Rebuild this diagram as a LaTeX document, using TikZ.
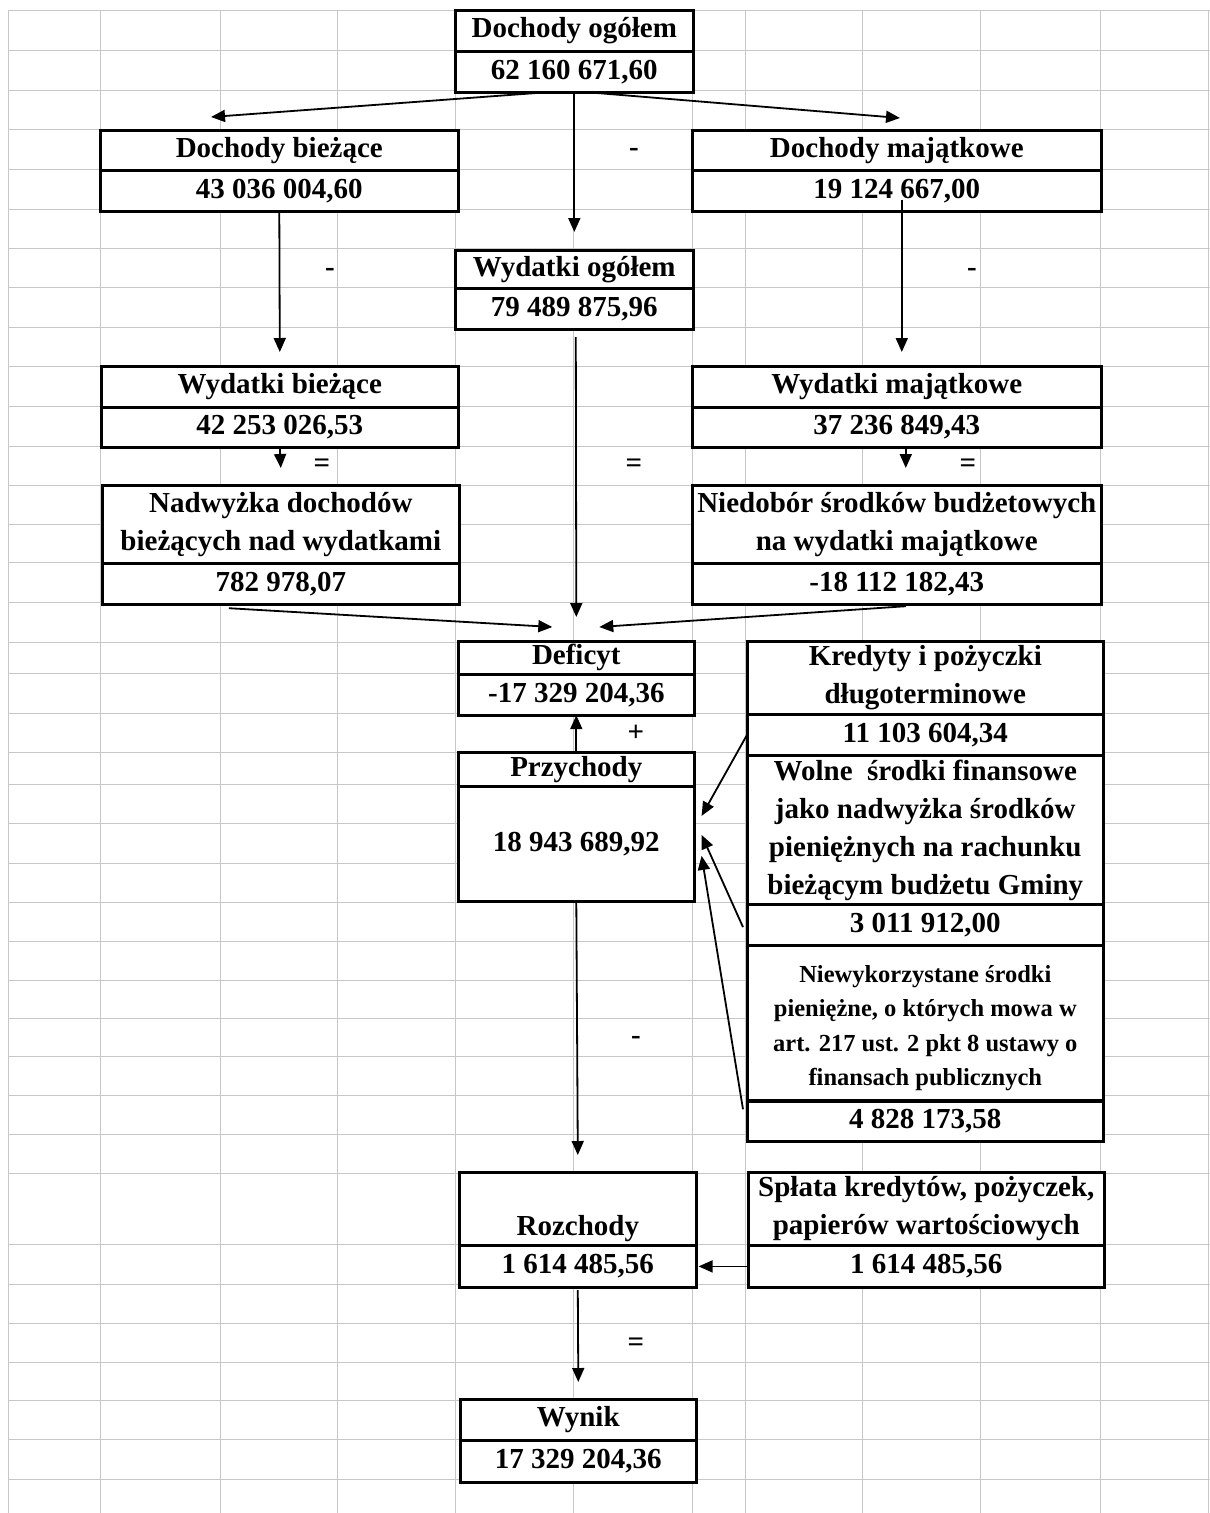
\documentclass[tikz,border=0pt]{standalone}
\usepackage{fontspec}
\setmainfont{Liberation Serif}
\usetikzlibrary{arrows.meta,calc}
\begin{document}
\begin{tikzpicture}[x=1pt,y=-1pt,
  gridline/.style={draw=black!22, line width=1pt},
  cell/.style={draw=black, line width=1.6pt, fill=white, inner sep=0pt, anchor=north west, align=center, font=\bfseries\fontsize{29}{38}\selectfont},
  smalltext/.style={font=\bfseries\fontsize{24.5}{34.5}\selectfont, align=center, inner sep=0pt},
  frame/.style={draw=black, line width=3pt},
  conn/.style={draw=black, line width=1.8pt, -{Triangle[length=14pt,width=12pt]}},
  op/.style={font=\bfseries\fontsize{29}{30}\selectfont, inner sep=0pt}]
\useasboundingbox[fill=white] (0,0) rectangle (1210,1513);
% spreadsheet grid
\foreach \y in {10,50,90,129,169,209,248,287,327,366,406,446,485,524,562,602,642,673,713,752,784,823,863,902,941,980,1018,1056,1095,1134,1173,1244,1284,1323,1362,1400,1439,1479}
  \draw[gridline] (8,\y) -- (1210,\y);
\foreach \x in {8,100,220,337,455,573,692,745,862,980,1100,1208}
  \draw[gridline] (\x,10) -- (\x,1513);
% Dochody ogolem
\node[cell, minimum width=237pt, minimum height=40pt] (dogT) at (455,10) {Dochody ogółem};
\node[cell, minimum width=237pt, minimum height=39pt] (dogV) at (dogT.south west) {62 160 671,60};
\draw[frame] (dogT.north west) rectangle (dogV.south east);
% Dochody biezace
\node[cell, minimum width=357pt, minimum height=39pt] (dbzT) at (100,130) {Dochody bieżące};
\node[cell, minimum width=357pt, minimum height=39pt] (dbzV) at (dbzT.south west) {43 036 004,60};
\draw[frame] (dbzT.north west) rectangle (dbzV.south east);
% Dochody majatkowe
\node[cell, minimum width=408pt, minimum height=39pt] (dmjT) at (692,130) {Dochody majątkowe};
\node[cell, minimum width=408pt, minimum height=39pt] (dmjV) at (dmjT.south west) {19 124 667,00};
\draw[frame] (dmjT.north west) rectangle (dmjV.south east);
% Wydatki ogolem
\node[cell, minimum width=237pt, minimum height=37pt] (wogT) at (455,250) {Wydatki ogółem};
\node[cell, minimum width=237pt, minimum height=39pt] (wogV) at (wogT.south west) {79 489 875,96};
\draw[frame] (wogT.north west) rectangle (wogV.south east);
% Wydatki biezace
\node[cell, minimum width=356pt, minimum height=40pt] (wbzT) at (101,366) {Wydatki bieżące};
\node[cell, minimum width=356pt, minimum height=38pt] (wbzV) at (wbzT.south west) {42 253 026,53};
\draw[frame] (wbzT.north west) rectangle (wbzV.south east);
% Wydatki majatkowe
\node[cell, minimum width=408pt, minimum height=40pt] (wmjT) at (692,366) {Wydatki majątkowe};
\node[cell, minimum width=408pt, minimum height=38pt] (wmjV) at (wmjT.south west) {37 236 849,43};
\draw[frame] (wmjT.north west) rectangle (wmjV.south east);
% Nadwyzka
\node[cell, minimum width=356pt, minimum height=77pt] (nadT) at (102,485) {Nadwyżka dochodów\\bieżących nad wydatkami};
\node[cell, minimum width=356pt, minimum height=39pt] (nadV) at (nadT.south west) {782 978,07};
\draw[frame] (nadT.north west) rectangle (nadV.south east);
% Niedobor
\node[cell, minimum width=408pt, minimum height=77pt] (nieT) at (692,485) {Niedobór środków budżetowych\\na wydatki majątkowe};
\node[cell, minimum width=408pt, minimum height=39pt] (nieV) at (nieT.south west) {-18 112 182,43};
\draw[frame] (nieT.north west) rectangle (nieV.south east);
% Deficyt
\node[cell, minimum width=235pt, minimum height=32pt] (defT) at (458,641) {Deficyt};
\node[cell, minimum width=235pt, minimum height=39pt] (defV) at (defT.south west) {-17 329 204,36};
\draw[frame] (defT.north west) rectangle (defV.south east);
% Przychody
\node[cell, minimum width=235pt, minimum height=33pt] (przT) at (458,752) {Przychody};
\node[cell, minimum width=235pt, minimum height=113pt] (przV) at (przT.south west) {18 943 689,92};
\draw[frame] (przT.north west) rectangle (przV.south east);
% Sources of Przychody
\node[cell, minimum width=355pt, minimum height=72pt] (kreT) at (747,641) {Kredyty i pożyczki\\długoterminowe};
\node[cell, minimum width=355pt, minimum height=39pt] (kreV) at (kreT.south west) {11 103 604,34};
\node[cell, minimum width=355pt, minimum height=148pt] (wolT) at (kreV.south west) {Wolne\ \ środki finansowe\\jako nadwyżka środków\\pieniężnych na rachunku\\bieżącym budżetu Gminy};
\node[cell, minimum width=355pt, minimum height=39pt] (wolV) at (wolT.south west) {3 011 912,00};
\node[cell, minimum width=355pt, minimum height=154pt, label={[smalltext, yshift=-5pt]center:Niewykorzystane środki\\pieniężne, o których mowa w\\art. 217 ust. 2 pkt 8 ustawy o\\finansach publicznych}] (niwT) at (wolV.south west) {};
\node[cell, minimum width=355pt, minimum height=39pt] (niwV) at (niwT.south west) {4 828 173,58};
\draw[frame] (kreT.north west) rectangle (niwV.south east);
% Rozchody
\node[cell, minimum width=236pt, minimum height=72pt, label={[font=\bfseries\fontsize{29}{38}\selectfont, inner sep=0pt, yshift=-20pt]center:Rozchody}] (rozT) at (459,1172) {};
\node[cell, minimum width=236pt, minimum height=40pt] (rozV) at (rozT.south west) {1 614 485,56};
\draw[frame] (rozT.north west) rectangle (rozV.south east);
% Splata
\node[cell, minimum width=355pt, minimum height=72pt] (splT) at (748,1172) {Spłata kredytów, pożyczek,\\papierów wartościowych};
\node[cell, minimum width=355pt, minimum height=40pt] (splV) at (splT.south west) {1 614 485,56};
\draw[frame] (splT.north west) rectangle (splV.south east);
% Wynik
\node[cell, minimum width=235pt, minimum height=40pt] (wynT) at (460,1399) {Wynik};
\node[cell, minimum width=235pt, minimum height=40pt] (wynV) at (wynT.south west) {17 329 204,36};
\draw[frame] (wynT.north west) rectangle (wynV.south east);
% connectors
\coordinate (tDB) at (211,117);
\coordinate (tDM) at (900,118);
\draw[conn] ([xshift=-27pt]dogV.south) -- (tDB);
\draw[conn] ([xshift=13pt]dogV.south) -- (tDM);
\draw[conn] (dogV.south) -- ([yshift=18pt]wogT.north);
\draw[conn] (dbzV.south) -- ([yshift=14pt]wbzT.north);
\draw[conn] ([xshift=5pt,yshift=11pt]dmjV.south) -- ([xshift=5pt,yshift=14pt]wmjT.north);
\draw[conn] ([xshift=1.5pt,yshift=-8pt]wogV.south) -- ([yshift=24pt]defT.north);
\draw[conn] (wbzV.south) -- ([yshift=17pt]nadT.north);
\draw[conn] ([xshift=9pt]wmjV.south) -- ([xshift=9pt,yshift=17pt]nieT.north);
\draw[conn] ([xshift=-52pt,yshift=-4pt]nadV.south) -- ([xshift=-24pt,yshift=14pt]defT.north);
\draw[conn] ([xshift=9pt,yshift=-2pt]nieV.south) -- ([xshift=23pt,yshift=14pt]defT.north);
\draw[conn] (przT.north) -- (defV.south);
\draw[conn] (kreV.west) -- ([xshift=7pt,yshift=28pt]przV.east);
\draw[conn] ([xshift=-4pt,yshift=-2pt]wolV.west) -- ([xshift=7pt,yshift=9pt]przV.east);
\draw[conn] ([xshift=-4pt,yshift=12pt]niwV.west) -- ([xshift=7pt,yshift=-12pt]przV.east);
\draw[conn] (przV.south) -- ([yshift=17pt]rozT.north);
\draw[conn] (splV.west) -- ([xshift=2pt]rozV.east);
\draw[conn] ([yshift=-3pt]rozV.south) -- ([yshift=17pt]wynT.north);
% operators
\node[op] (m1) at (634,152) {-};
\node[op] (m2) at (330,272) {-};
\node[op] (m3) at (972,272) {-};
\node[op] (m4) at (636,1040) {-};
\node[op] (e1) at (322,466) {=};
\node[op] (e2) at (634,466) {=};
\node[op] (e3) at (968,466) {=};
\node[op] (e4) at (636,1345) {=};
\node[op] (p1) at (636,733) {+};
\end{tikzpicture}
\end{document}
